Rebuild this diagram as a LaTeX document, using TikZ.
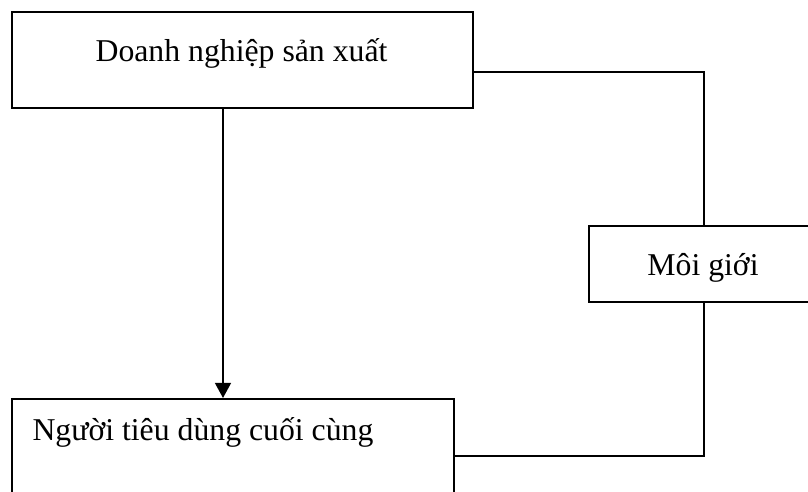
\documentclass[tikz,border=0pt]{standalone}
\usepackage{fontspec}
\setmainfont{Liberation Serif}
\usetikzlibrary{arrows.meta,positioning}

\begin{document}
\begin{tikzpicture}[x=0.378pt,y=-0.378pt,>={Triangle[length=5.7pt,width=6pt]},
  font=\fontsize{12}{14}\selectfont,
  box/.style={draw,line width=0.7pt,anchor=north west,inner sep=0pt},
  link/.style={line width=0.7pt}]
\useasboundingbox (0,0) rectangle (808,491);
\clip (0,0) rectangle (808,491);
% boxes
\node[box,minimum width=174.3pt,minimum height=36.3pt] (prod) at (11,11) {};
\node[box,minimum width=86.9pt,minimum height=28.7pt] (broker) at (588,225) {};
\node[box,minimum width=167.1pt,minimum height=49.9pt] (cons) at (11,398) {};
% texts
\node[anchor=base] (prodtxt) at (241.5,61) {Doanh nghiệp sản xuất};
\node[anchor=base] (brokertxt) at (703,275) {Môi giới};
\node[anchor=base west,inner sep=0pt] (constxt) at (32,440) {Người tiêu dùng cuối cùng};
% connectors
\coordinate (tapy) at (0,72);
\coordinate (lowy) at (0,456);
\coordinate (arrx) at (223,0);
\draw[link] (prod.east |- tapy) -| (broker.north);
\draw[link] (broker.south) |- (cons.east |- lowy);
\draw[link,->] (prod.south -| arrx) -- (cons.north -| arrx);
\end{tikzpicture}
\end{document}
